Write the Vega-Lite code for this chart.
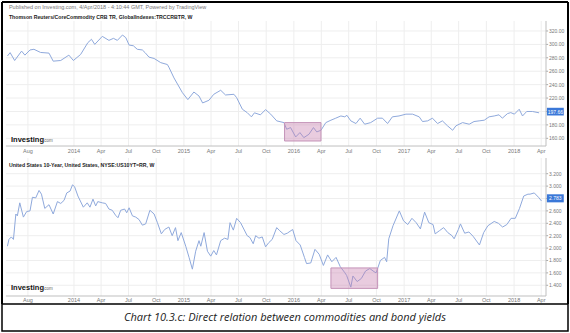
{
  "$schema": "https://vega.github.io/schema/vega-lite/v6.json",
  "background": "white",
  "padding": {"left": 1, "top": 1, "right": 0, "bottom": 0},
  "spacing": 0,
  "bounds": "flush",
  "config": {"view": {"stroke": null}, "font": "Liberation Sans", "axis": {"disable": true}},
  "datasets": {
    "ticks": [{"d":"2013-08-01","l":"Aug"},{"d":"2014-01-01","l":"2014"},{"d":"2014-04-01","l":"Apr"},{"d":"2014-07-01","l":"Jul"},{"d":"2014-10-01","l":"Oct"},{"d":"2015-01-01","l":"2015"},{"d":"2015-04-01","l":"Apr"},{"d":"2015-07-01","l":"Jul"},{"d":"2015-10-01","l":"Oct"},{"d":"2016-01-01","l":"2016"},{"d":"2016-04-01","l":"Apr"},{"d":"2016-07-01","l":"Jul"},{"d":"2016-10-01","l":"Oct"},{"d":"2017-01-01","l":"2017"},{"d":"2017-04-01","l":"Apr"},{"d":"2017-07-01","l":"Jul"},{"d":"2017-10-01","l":"Oct"},{"d":"2018-01-01","l":"2018"},{"d":"2018-04-01","l":"Apr"}],
    "ytop": [{"v":160},{"v":180},{"v":200},{"v":220},{"v":240},{"v":260},{"v":280},{"v":300},{"v":320}],
    "ybot": [{"v":1.4},{"v":1.6},{"v":1.8},{"v":2.0},{"v":2.2},{"v":2.4},{"v":2.6},{"v":2.8},{"v":3.0},{"v":3.2}],
    "crb": [
      {"d":"2013-05-25","v":282.7},{"d":"2013-06-03","v":287.7},{"d":"2013-06-18","v":276},{"d":"2013-07-11","v":290},{"d":"2013-07-22","v":284},{"d":"2013-08-08","v":291.7},{"d":"2013-08-21","v":292.7},{"d":"2013-09-12","v":288},{"d":"2013-10-10","v":287},{"d":"2013-10-24","v":275},{"d":"2013-11-18","v":276},{"d":"2013-12-15","v":284},{"d":"2013-12-30","v":276},
      {"d":"2014-01-23","v":285},{"d":"2014-02-16","v":302.6},{"d":"2014-02-28","v":307.6},{"d":"2014-03-11","v":300},{"d":"2014-04-05","v":312},{"d":"2014-04-27","v":306},{"d":"2014-05-12","v":309},{"d":"2014-05-25","v":306},{"d":"2014-06-11","v":314},{"d":"2014-06-22","v":310},{"d":"2014-07-03","v":299},{"d":"2014-07-17","v":298},{"d":"2014-07-30","v":292.7},{"d":"2014-08-16","v":291.7},{"d":"2014-08-25","v":287.7},{"d":"2014-09-07","v":281},{"d":"2014-09-24","v":279},{"d":"2014-10-16","v":272.8},{"d":"2014-11-07","v":270},{"d":"2014-11-12","v":266},{"d":"2014-11-29","v":250},{"d":"2014-12-27","v":228},
      {"d":"2015-01-14","v":217.7},{"d":"2015-02-03","v":229},{"d":"2015-02-20","v":223},{"d":"2015-03-04","v":212.7},{"d":"2015-03-25","v":216.7},{"d":"2015-04-10","v":225.6},{"d":"2015-05-03","v":231.6},{"d":"2015-05-19","v":224.6},{"d":"2015-06-16","v":225.6},{"d":"2015-06-25","v":220.6},{"d":"2015-07-14","v":203.3},{"d":"2015-07-30","v":198.3},{"d":"2015-08-13","v":192},{"d":"2015-08-23","v":198},{"d":"2015-09-12","v":195},{"d":"2015-09-29","v":202.8},{"d":"2015-10-16","v":196},{"d":"2015-11-05","v":186},{"d":"2015-11-29","v":183.4},{"d":"2015-12-08","v":173.5},{"d":"2015-12-21","v":176},
      {"d":"2016-01-07","v":162},{"d":"2016-01-21","v":168.5},{"d":"2016-02-03","v":161},{"d":"2016-02-20","v":166},{"d":"2016-03-06","v":176},{"d":"2016-03-17","v":169.5},{"d":"2016-03-31","v":172},{"d":"2016-04-16","v":183.4},{"d":"2016-05-03","v":187},{"d":"2016-05-19","v":190},{"d":"2016-06-05","v":193.3},{"d":"2016-06-18","v":192},{"d":"2016-06-25","v":194.3},{"d":"2016-07-08","v":186},{"d":"2016-07-25","v":182},{"d":"2016-08-08","v":190},{"d":"2016-08-23","v":181},{"d":"2016-09-12","v":183.4},{"d":"2016-10-05","v":190},{"d":"2016-10-21","v":190},{"d":"2016-11-07","v":182},{"d":"2016-11-23","v":192},{"d":"2016-12-15","v":193.3},
      {"d":"2017-01-07","v":196},{"d":"2017-01-29","v":196},{"d":"2017-02-20","v":192},{"d":"2017-03-03","v":185},{"d":"2017-03-20","v":186},{"d":"2017-04-05","v":190},{"d":"2017-04-22","v":182},{"d":"2017-05-08","v":186},{"d":"2017-05-25","v":178.6},{"d":"2017-06-11","v":172},{"d":"2017-06-22","v":178.6},{"d":"2017-07-14","v":183.4},{"d":"2017-08-05","v":181},{"d":"2017-08-21","v":185},{"d":"2017-09-07","v":186},{"d":"2017-09-24","v":187},{"d":"2017-10-10","v":192},{"d":"2017-10-27","v":193.3},{"d":"2017-11-12","v":195},{"d":"2017-11-23","v":190},{"d":"2017-12-10","v":196.8},{"d":"2017-12-21","v":198.3},
      {"d":"2018-01-02","v":196},{"d":"2018-01-18","v":203.3},{"d":"2018-01-29","v":193.3},{"d":"2018-02-12","v":200},{"d":"2018-03-03","v":200},{"d":"2018-03-25","v":198}
    ],
    "ust": [
      {"d":"2013-05-25","v":2.03},{"d":"2013-05-30","v":2.14},{"d":"2013-06-07","v":2.18},{"d":"2013-06-14","v":2.14},{"d":"2013-06-22","v":2.55},{"d":"2013-06-27","v":2.52},{"d":"2013-07-05","v":2.73},{"d":"2013-07-17","v":2.50},{"d":"2013-07-28","v":2.59},{"d":"2013-08-08","v":2.60},{"d":"2013-08-16","v":2.82},{"d":"2013-08-27","v":2.81},{"d":"2013-09-07","v":2.93},{"d":"2013-09-15","v":2.87},{"d":"2013-09-26","v":2.64},{"d":"2013-10-10","v":2.70},{"d":"2013-10-24","v":2.55},{"d":"2013-11-07","v":2.75},{"d":"2013-11-18","v":2.72},{"d":"2013-11-29","v":2.77},{"d":"2013-12-08","v":2.89},{"d":"2013-12-19","v":2.92},{"d":"2013-12-27","v":3.02},
      {"d":"2014-01-03","v":2.99},{"d":"2014-01-14","v":2.84},{"d":"2014-02-01","v":2.66},{"d":"2014-02-14","v":2.73},{"d":"2014-02-23","v":2.66},{"d":"2014-03-05","v":2.79},{"d":"2014-03-14","v":2.68},{"d":"2014-03-21","v":2.75},{"d":"2014-04-05","v":2.73},{"d":"2014-04-16","v":2.72},{"d":"2014-04-27","v":2.63},{"d":"2014-05-08","v":2.61},{"d":"2014-05-19","v":2.53},{"d":"2014-05-27","v":2.49},{"d":"2014-06-05","v":2.61},{"d":"2014-06-18","v":2.63},{"d":"2014-06-25","v":2.57},{"d":"2014-07-03","v":2.65},{"d":"2014-07-14","v":2.52},{"d":"2014-07-25","v":2.50},{"d":"2014-08-05","v":2.46},{"d":"2014-08-16","v":2.37},{"d":"2014-08-27","v":2.39},{"d":"2014-09-10","v":2.61},{"d":"2014-09-24","v":2.55},{"d":"2014-10-05","v":2.41},{"d":"2014-10-18","v":2.23},{"d":"2014-10-29","v":2.30},{"d":"2014-11-12","v":2.34},{"d":"2014-11-23","v":2.20},{"d":"2014-12-04","v":2.33},{"d":"2014-12-12","v":2.12},{"d":"2014-12-23","v":2.25},
      {"d":"2015-01-07","v":2.03},{"d":"2015-01-18","v":1.85},{"d":"2015-01-29","v":1.66},{"d":"2015-02-09","v":1.95},{"d":"2015-02-20","v":2.12},{"d":"2015-02-26","v":2.03},{"d":"2015-03-09","v":2.25},{"d":"2015-03-20","v":1.95},{"d":"2015-03-31","v":1.87},{"d":"2015-04-10","v":1.96},{"d":"2015-04-19","v":1.89},{"d":"2015-05-03","v":2.12},{"d":"2015-05-16","v":2.16},{"d":"2015-05-27","v":2.14},{"d":"2015-06-03","v":2.41},{"d":"2015-06-14","v":2.29},{"d":"2015-06-25","v":2.48},{"d":"2015-07-08","v":2.41},{"d":"2015-07-30","v":2.20},{"d":"2015-08-08","v":2.17},{"d":"2015-08-19","v":2.07},{"d":"2015-08-27","v":2.20},{"d":"2015-09-07","v":2.16},{"d":"2015-09-18","v":2.18},{"d":"2015-09-29","v":2.02},{"d":"2015-10-10","v":2.09},{"d":"2015-10-21","v":2.14},{"d":"2015-11-05","v":2.33},{"d":"2015-11-15","v":2.28},{"d":"2015-11-29","v":2.22},{"d":"2015-12-10","v":2.24},{"d":"2015-12-28","v":2.30},
      {"d":"2016-01-08","v":2.12},{"d":"2016-01-22","v":2.05},{"d":"2016-02-05","v":1.85},{"d":"2016-02-12","v":1.75},{"d":"2016-02-26","v":1.76},{"d":"2016-03-11","v":1.98},{"d":"2016-03-25","v":1.90},{"d":"2016-04-08","v":1.72},{"d":"2016-04-22","v":1.89},{"d":"2016-05-06","v":1.78},{"d":"2016-05-20","v":1.85},{"d":"2016-06-03","v":1.70},{"d":"2016-06-17","v":1.61},{"d":"2016-06-24","v":1.56},{"d":"2016-07-08","v":1.37},{"d":"2016-07-15","v":1.55},{"d":"2016-07-29","v":1.46},{"d":"2016-08-12","v":1.51},{"d":"2016-08-26","v":1.63},{"d":"2016-09-09","v":1.67},{"d":"2016-09-23","v":1.62},{"d":"2016-09-30","v":1.60},{"d":"2016-10-14","v":1.80},{"d":"2016-10-28","v":1.85},{"d":"2016-11-04","v":1.78},{"d":"2016-11-11","v":2.15},{"d":"2016-11-25","v":2.36},{"d":"2016-12-16","v":2.60},{"d":"2016-12-30","v":2.44},
      {"d":"2017-01-13","v":2.38},{"d":"2017-01-27","v":2.48},{"d":"2017-02-10","v":2.41},{"d":"2017-02-24","v":2.31},{"d":"2017-03-10","v":2.58},{"d":"2017-03-24","v":2.41},{"d":"2017-04-07","v":2.38},{"d":"2017-04-14","v":2.23},{"d":"2017-04-28","v":2.28},{"d":"2017-05-12","v":2.33},{"d":"2017-05-26","v":2.25},{"d":"2017-06-09","v":2.20},{"d":"2017-06-16","v":2.15},{"d":"2017-06-30","v":2.30},{"d":"2017-07-07","v":2.39},{"d":"2017-07-21","v":2.24},{"d":"2017-08-04","v":2.26},{"d":"2017-08-18","v":2.19},{"d":"2017-09-08","v":2.05},{"d":"2017-09-22","v":2.25},{"d":"2017-10-06","v":2.36},{"d":"2017-10-27","v":2.43},{"d":"2017-11-10","v":2.40},{"d":"2017-11-24","v":2.34},{"d":"2017-12-08","v":2.38},{"d":"2017-12-22","v":2.48},
      {"d":"2018-01-05","v":2.48},{"d":"2018-01-19","v":2.64},{"d":"2018-02-02","v":2.84},{"d":"2018-02-16","v":2.87},{"d":"2018-02-23","v":2.87},{"d":"2018-03-09","v":2.89},{"d":"2018-03-23","v":2.82},{"d":"2018-04-02","v":2.76}
    ]
  },
  "vconcat": [
    {
      "width": 566,
      "height": 152,
      "layer": [
        {
          "data": {"name": "ticks"},
          "mark": {"type": "rule", "color": "#eeeeee", "strokeWidth": 1},
          "encoding": {
            "x": {"field": "d", "type": "temporal", "axis": null, "scale": {"type": "utc", "nice": false, "domain": [{"year":2013,"month":5,"date":7,"utc":true},{"year":2018,"month":6,"date":29,"utc":true}]}},
            "y": {"datum": 148.5, "type": "quantitative", "axis": null, "scale": {"domain": [136.6, 363.2], "nice": false, "zero": false}},
            "y2": {"datum": 334.9}
          }
        },
        {
          "data": {"name": "ytop"},
          "mark": {"type": "rule", "color": "#eeeeee", "strokeWidth": 1},
          "encoding": {
            "y": {"field": "v", "type": "quantitative", "axis": null},
            "x": {"datum": {"year":2013,"month":5,"date":20,"utc":true}, "type": "temporal", "axis": null},
            "x2": {"datum": {"year":2018,"month":4,"date":17,"utc":true}}
          }
        },
        {
          "data": {"name": "ytop"},
          "mark": {"type": "rule", "color": "#aaaaaa", "strokeWidth": 1},
          "encoding": {
            "y": {"field": "v", "type": "quantitative", "axis": null},
            "x": {"datum": {"year":2018,"month":4,"date":17,"utc":true}, "type": "temporal", "axis": null},
            "x2": {"datum": {"year":2018,"month":4,"date":24,"utc":true}}
          }
        },
        {
          "data": {"values": [{}]},
          "mark": {"type": "rule", "color": "#bfbfbf", "strokeWidth": 1},
          "encoding": {
            "x": {"datum": {"year":2018,"month":4,"date":17,"utc":true}, "type": "temporal", "axis": null},
            "y": {"datum": 148.5, "type": "quantitative", "axis": null},
            "y2": {"datum": 334.9}
          }
        },
        {
          "data": {"values": [{}]},
          "mark": {"type": "rule", "color": "#bfbfbf", "strokeWidth": 1},
          "encoding": {
            "y": {"datum": 148.5, "type": "quantitative", "axis": null},
            "x": {"datum": {"year":2013,"month":5,"date":20,"utc":true}, "type": "temporal", "axis": null},
            "x2": {"datum": {"year":2018,"month":4,"date":17,"utc":true}}
          }
        },
        {
          "data": {"name": "crb"},
          "mark": {"type": "line", "color": "#8fa9dc", "strokeWidth": 1},
          "encoding": {
            "x": {"field": "d", "type": "temporal", "axis": null, "scale": {"type": "utc", "nice": false, "domain": [{"year":2013,"month":5,"date":7,"utc":true},{"year":2018,"month":6,"date":29,"utc":true}]}},
            "y": {"field": "v", "type": "quantitative", "axis": null, "scale": {"domain": [136.6, 363.2], "nice": false, "zero": false}}
          }
        },
        {
          "data": {"values": [{"s": "2015-12-01", "e": "2016-03-31", "lo": 156, "hi": 183.4}]},
          "mark": {"type": "rect", "fill": "#c77fae", "fillOpacity": 0.4, "stroke": "#c493b8", "strokeWidth": 1},
          "encoding": {
            "x": {"field": "s", "type": "temporal", "axis": null},
            "x2": {"field": "e"},
            "y": {"field": "lo", "type": "quantitative", "axis": null},
            "y2": {"field": "hi"}
          }
        },
        {
          "data": {"name": "ticks"},
          "mark": {"type": "text", "align": "center", "baseline": "middle", "font": "Liberation Sans", "fontSize": 5.5, "color": "#777777"},
          "encoding": {
            "x": {"field": "d", "type": "temporal", "axis": null},
            "y": {"datum": 141.1, "type": "quantitative", "axis": null},
            "text": {"field": "l"}
          }
        },
        {
          "data": {"name": "ytop"},
          "transform": [{"filter": "datum.v != 200"}],
          "mark": {"type": "text", "align": "left", "baseline": "middle", "font": "Liberation Sans", "fontSize": 5, "color": "#777777"},
          "encoding": {
            "x": {"datum": {"year":2018,"month":4,"date":27,"utc":true}, "type": "temporal", "axis": null},
            "y": {"field": "v", "type": "quantitative", "axis": null},
            "text": {"field": "v", "type": "quantitative", "format": ".2f"}
          }
        },
        {
          "data": {"values": [{"t": "Investing"}]},
          "mark": {"type": "text", "align": "left", "baseline": "middle", "font": "Liberation Sans", "fontWeight": "bold", "fontSize": 7.5, "color": "#111111", "letterSpacing": -0.4},
          "encoding": {
            "x": {"datum": {"year":2013,"month":6,"date":6,"utc":true}, "type": "temporal", "axis": null},
            "y": {"datum": 157.5, "type": "quantitative", "axis": null},
            "text": {"field": "t"}
          }
        },
        {
          "data": {"values": [{"t": ".com"}]},
          "mark": {"type": "text", "align": "left", "baseline": "middle", "font": "Liberation Sans", "fontSize": 4.5, "color": "#666666"},
          "encoding": {
            "x": {"datum": {"year":2013,"month":9,"date":20,"utc":true}, "type": "temporal", "axis": null},
            "y": {"datum": 156.3, "type": "quantitative", "axis": null},
            "text": {"field": "t"}
          }
        },
        {
          "data": {"values": [{"t": "Published on Investing.com, 4/Apr/2018 - 4:10:44 GMT, Powered by TradingView"}]},
          "mark": {"type": "text", "align": "left", "baseline": "middle", "font": "Liberation Sans", "fontSize": 5.5, "color": "#777777"},
          "encoding": {
            "x": {"datum": {"year":2013,"month":5,"date":30,"utc":true}, "type": "temporal", "axis": null},
            "y": {"datum": 355.8, "type": "quantitative", "axis": null},
            "text": {"field": "t"}
          }
        },
        {
          "data": {"values": [{"t": "Thomson Reuters/CoreCommodity CRB TR, GlobalIndexes:TRCCRBTR, W"}]},
          "mark": {"type": "text", "align": "left", "baseline": "middle", "font": "Liberation Sans", "fontWeight": "bold", "fontSize": 5.2, "color": "#222222"},
          "encoding": {
            "x": {"datum": {"year":2013,"month":5,"date":30,"utc":true}, "type": "temporal", "axis": null},
            "y": {"datum": 340.9, "type": "quantitative", "axis": null},
            "text": {"field": "t"}
          }
        },
        {
          "data": {"values": [{}]},
          "mark": {"type": "rect", "fill": "#3b78d8"},
          "encoding": {
            "x": {"datum": {"year":2018,"month":4,"date":20,"utc":true}, "type": "temporal", "axis": null},
            "x2": {"datum": {"year":2018,"month":6,"date":15,"utc":true}},
            "y": {"datum": 194.0, "type": "quantitative", "axis": null},
            "y2": {"datum": 205.5}
          }
        },
        {
          "data": {"values": [{"t": "197.66"}]},
          "mark": {"type": "text", "align": "center", "baseline": "middle", "font": "Liberation Sans", "fontSize": 5, "color": "#ffffff"},
          "encoding": {
            "x": {"datum": {"year":2018,"month":5,"date":18,"utc":true}, "type": "temporal", "axis": null},
            "y": {"datum": 199.7, "type": "quantitative", "axis": null},
            "text": {"field": "t"}
          }
        },
        {
          "data": {"values": [{}]},
          "mark": {"type": "rule", "color": "#000000", "strokeWidth": 2},
          "encoding": {"x": {"datum": {"year":2013,"month":5,"date":7,"utc":true}, "type": "temporal", "axis": null}}
        },
        {
          "data": {"values": [{}]},
          "mark": {"type": "rule", "color": "#000000", "strokeWidth": 2},
          "encoding": {"x": {"datum": {"year":2018,"month":6,"date":29,"utc":true}, "type": "temporal", "axis": null}}
        },
        {
          "data": {"values": [{}]},
          "mark": {"type": "rule", "color": "#000000", "strokeWidth": 2},
          "encoding": {"y": {"datum": 363.2, "type": "quantitative", "axis": null}}
        }
      ]
    },
    {
      "width": 566,
      "height": 150,
      "layer": [
        {
          "data": {"name": "ticks"},
          "mark": {"type": "rule", "color": "#eeeeee", "strokeWidth": 1},
          "encoding": {
            "x": {"field": "d", "type": "temporal", "axis": null, "scale": {"type": "utc", "nice": false, "domain": [{"year":2013,"month":5,"date":7,"utc":true},{"year":2018,"month":6,"date":29,"utc":true}]}},
            "y": {"datum": 1.227, "type": "quantitative", "axis": null, "scale": {"domain": [1.098, 3.518], "nice": false, "zero": false}},
            "y2": {"datum": 3.453}
          }
        },
        {
          "data": {"name": "ybot"},
          "mark": {"type": "rule", "color": "#eeeeee", "strokeWidth": 1},
          "encoding": {
            "y": {"field": "v", "type": "quantitative", "axis": null},
            "x": {"datum": {"year":2013,"month":5,"date":20,"utc":true}, "type": "temporal", "axis": null},
            "x2": {"datum": {"year":2018,"month":4,"date":17,"utc":true}}
          }
        },
        {
          "data": {"name": "ybot"},
          "mark": {"type": "rule", "color": "#aaaaaa", "strokeWidth": 1},
          "encoding": {
            "y": {"field": "v", "type": "quantitative", "axis": null},
            "x": {"datum": {"year":2018,"month":4,"date":17,"utc":true}, "type": "temporal", "axis": null},
            "x2": {"datum": {"year":2018,"month":4,"date":24,"utc":true}}
          }
        },
        {
          "data": {"values": [{}]},
          "mark": {"type": "rule", "color": "#bfbfbf", "strokeWidth": 1},
          "encoding": {
            "x": {"datum": {"year":2018,"month":4,"date":17,"utc":true}, "type": "temporal", "axis": null},
            "y": {"datum": 1.227, "type": "quantitative", "axis": null},
            "y2": {"datum": 3.453}
          }
        },
        {
          "data": {"values": [{}]},
          "mark": {"type": "rule", "color": "#bfbfbf", "strokeWidth": 1},
          "encoding": {
            "y": {"datum": 1.227, "type": "quantitative", "axis": null},
            "x": {"datum": {"year":2013,"month":5,"date":20,"utc":true}, "type": "temporal", "axis": null},
            "x2": {"datum": {"year":2018,"month":4,"date":17,"utc":true}}
          }
        },
        {
          "data": {"name": "ust"},
          "mark": {"type": "line", "color": "#8fa9dc", "strokeWidth": 1},
          "encoding": {
            "x": {"field": "d", "type": "temporal", "axis": null, "scale": {"type": "utc", "nice": false, "domain": [{"year":2013,"month":5,"date":7,"utc":true},{"year":2018,"month":6,"date":29,"utc":true}]}},
            "y": {"field": "v", "type": "quantitative", "axis": null, "scale": {"domain": [1.098, 3.518], "nice": false, "zero": false}}
          }
        },
        {
          "data": {"values": [{"s": "2016-05-03", "e": "2016-10-05", "lo": 1.35, "hi": 1.68}]},
          "mark": {"type": "rect", "fill": "#c77fae", "fillOpacity": 0.4, "stroke": "#c493b8", "strokeWidth": 1},
          "encoding": {
            "x": {"field": "s", "type": "temporal", "axis": null},
            "x2": {"field": "e"},
            "y": {"field": "lo", "type": "quantitative", "axis": null},
            "y2": {"field": "hi"}
          }
        },
        {
          "data": {"name": "ticks"},
          "mark": {"type": "text", "align": "center", "baseline": "middle", "font": "Liberation Sans", "fontSize": 5.5, "color": "#777777"},
          "encoding": {
            "x": {"field": "d", "type": "temporal", "axis": null},
            "y": {"datum": 1.155, "type": "quantitative", "axis": null},
            "text": {"field": "l"}
          }
        },
        {
          "data": {"name": "ybot"},
          "transform": [{"filter": "datum.v != 2.8"}],
          "mark": {"type": "text", "align": "left", "baseline": "middle", "font": "Liberation Sans", "fontSize": 5, "color": "#777777"},
          "encoding": {
            "x": {"datum": {"year":2018,"month":4,"date":27,"utc":true}, "type": "temporal", "axis": null},
            "y": {"field": "v", "type": "quantitative", "axis": null},
            "text": {"field": "v", "type": "quantitative", "format": ".3f"}
          }
        },
        {
          "data": {"values": [{"t": "Investing"}]},
          "mark": {"type": "text", "align": "left", "baseline": "middle", "font": "Liberation Sans", "fontWeight": "bold", "fontSize": 7.5, "color": "#111111", "letterSpacing": -0.4},
          "encoding": {
            "x": {"datum": {"year":2013,"month":6,"date":6,"utc":true}, "type": "temporal", "axis": null},
            "y": {"datum": 1.356, "type": "quantitative", "axis": null},
            "text": {"field": "t"}
          }
        },
        {
          "data": {"values": [{"t": ".com"}]},
          "mark": {"type": "text", "align": "left", "baseline": "middle", "font": "Liberation Sans", "fontSize": 4.5, "color": "#666666"},
          "encoding": {
            "x": {"datum": {"year":2013,"month":9,"date":20,"utc":true}, "type": "temporal", "axis": null},
            "y": {"datum": 1.337, "type": "quantitative", "axis": null},
            "text": {"field": "t"}
          }
        },
        {
          "data": {"values": [{"t": "United States 10-Year, United States, NYSE:US10YT=RR, W"}]},
          "mark": {"type": "text", "align": "left", "baseline": "middle", "font": "Liberation Sans", "fontWeight": "bold", "fontSize": 5.2, "color": "#222222"},
          "encoding": {
            "x": {"datum": {"year":2013,"month":5,"date":30,"utc":true}, "type": "temporal", "axis": null},
            "y": {"datum": 3.34, "type": "quantitative", "axis": null},
            "text": {"field": "t"}
          }
        },
        {
          "data": {"values": [{}]},
          "mark": {"type": "rect", "fill": "#3b78d8"},
          "encoding": {
            "x": {"datum": {"year":2018,"month":4,"date":20,"utc":true}, "type": "temporal", "axis": null},
            "x2": {"datum": {"year":2018,"month":6,"date":15,"utc":true}},
            "y": {"datum": 2.738, "type": "quantitative", "axis": null},
            "y2": {"datum": 2.868}
          }
        },
        {
          "data": {"values": [{"t": "2.783"}]},
          "mark": {"type": "text", "align": "center", "baseline": "middle", "font": "Liberation Sans", "fontSize": 5, "color": "#ffffff"},
          "encoding": {
            "x": {"datum": {"year":2018,"month":5,"date":18,"utc":true}, "type": "temporal", "axis": null},
            "y": {"datum": 2.803, "type": "quantitative", "axis": null},
            "text": {"field": "t"}
          }
        },
        {
          "data": {"values": [{}]},
          "mark": {"type": "rule", "color": "#000000", "strokeWidth": 2},
          "encoding": {"x": {"datum": {"year":2013,"month":5,"date":7,"utc":true}, "type": "temporal", "axis": null}}
        },
        {
          "data": {"values": [{}]},
          "mark": {"type": "rule", "color": "#000000", "strokeWidth": 2},
          "encoding": {"x": {"datum": {"year":2018,"month":6,"date":29,"utc":true}, "type": "temporal", "axis": null}}
        }
      ]
    },
    {
      "width": 566,
      "height": 27,
      "view": {"stroke": "#000000", "strokeWidth": 1.5},
      "data": {"values": [{"c": "Chart 10.3.c: Direct relation between commodities and bond yields"}]},
      "mark": {"type": "text", "font": "Open Sans", "fontStyle": "italic", "fontSize": 11, "color": "#222222", "baseline": "middle"},
      "encoding": {"text": {"field": "c"}}
    }
  ]
}
